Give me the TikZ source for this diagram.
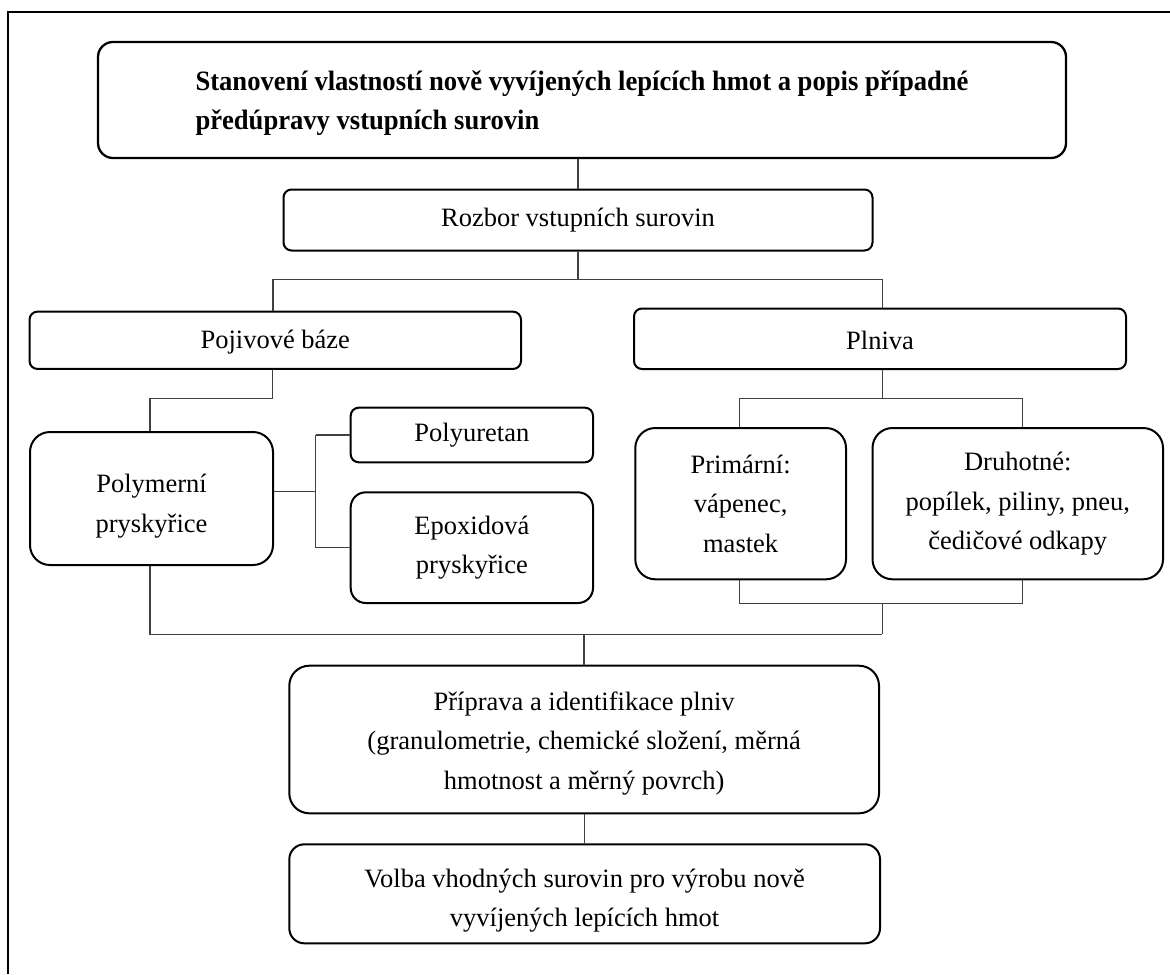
\documentclass[tikz,border=0pt]{standalone}
\usepackage{fontspec}
\setmainfont{Liberation Serif}
\newfontfamily\titlefont[FakeStretch=0.95]{Liberation Serif}
\newcommand\upstrut[1]{\rule{0pt}{#1}}
\begin{document}
\begin{tikzpicture}[x=0.5pt,y=-0.5pt]
\tikzset{
  box/.style={draw=black, line width=1pt, rounded corners=4pt, align=center, inner sep=0pt,
    font=\fontsize{13.25pt}{19.75pt}\selectfont},
  bigr/.style={rounded corners=10pt},
  midr/.style={rounded corners=7.5pt},
  conn/.style={draw=black!75, line width=0.6pt},
  frame/.style={draw=black, line width=1pt},
}
\useasboundingbox (0,0) rectangle (1170,974);
\draw[frame] (8.3,974) -- (8.3,12) -- (1170,12);

% nodes
\node[box, midr, line width=1.15pt, align=left, minimum width=484pt, minimum height=58pt,
  font=\titlefont\bfseries\fontsize{14pt}{19.5pt}\selectfont] (title) at (582,100)
  {\upstrut{13pt}Stanovení vlastností nově vyvíjených lepících hmot a popis případné\\předúpravy vstupních surovin};
\node[box, minimum width=294.5pt, minimum height=30.5pt] (rozbor) at (578,220) {Rozbor vstupních surovin};
\node[box, minimum width=245.75pt, minimum height=28.65pt] (pojiv) at (275.25,340.3) {\upstrut{11pt}Pojivové báze};
\node[box, minimum width=246pt, minimum height=30.25pt] (plniva) at (880,338.75) {\upstrut{11pt}Plniva};
\node[box, bigr, minimum width=121.5pt, minimum height=66.5pt] (polym) at (151.5,498.5) {\upstrut{17pt}Polymerní\\pryskyřice};
\node[box, minimum width=121.15pt, minimum height=27.3pt] (polyur) at (471.85,435) {Polyuretan};
\node[box, midr, minimum width=121.15pt, minimum height=55.35pt] (epox) at (471.85,547.65) {Epoxidová\\pryskyřice};
\node[box, bigr, minimum width=105.35pt, minimum height=75.65pt] (prim) at (740.65,503.65) {Primární:\\vápenec,\\mastek};
\node[box, bigr, minimum width=145.25pt, minimum height=75.65pt] (druh) at (1017.75,503.65) {Druhotné:\\popílek, piliny, pneu,\\čedičové odkapy};
\node[box, bigr, minimum width=294.85pt, minimum height=73.8pt] (prip) at (584.15,739.5) {\upstrut{13pt}Příprava a identifikace plniv\\(granulometrie, chemické složení, měrná\\hmotnost a měrný povrch)};
\node[box, midr, minimum width=295.35pt, minimum height=49.5pt] (volba) at (584.65,893.8) {\upstrut{16pt}Volba vhodných surovin pro výrobu nově\\vyvíjených lepících hmot};

% junction coordinates
\coordinate (jA) at (578,279.3);
\coordinate (jAL) at (273,279.3);
\coordinate (jAR) at (882.3,279.3);
\coordinate (jB) at (272.7,398.3);
\coordinate (jBL) at (150,398.3);
\coordinate (jC) at (882.3,398.3);
\coordinate (jCL) at (739.3,398.3);
\coordinate (jCR) at (1022.5,398.3);
\coordinate (jD) at (315.7,491.7);
\coordinate (jDT) at (315.7,435);
\coordinate (jDB) at (315.7,547.65);
\coordinate (jE) at (882.3,603.3);
\coordinate (jEL) at (739.3,603.3);
\coordinate (jER) at (1022.5,603.3);
\coordinate (jF) at (150,634.3);
\coordinate (jFR) at (882.3,634.3);
\coordinate (jFM) at (584,634.3);

% connectors
\draw[conn] (title.south -| jA) -- (rozbor.north -| jA);
\draw[conn] (rozbor.south -| jA) -- (jA);
\draw[conn] (jAL) -- (jAR);
\draw[conn] (jAL) -- (pojiv.north -| jAL);
\draw[conn] (jAR) -- (plniva.north -| jAR);
\draw[conn] (pojiv.south -| jB) -- (jB) -- (jBL) -- (polym.north -| jBL);
\draw[conn] (plniva.south -| jC) -- (jC);
\draw[conn] (jCL) -- (jCR);
\draw[conn] (jCL) -- (prim.north -| jCL);
\draw[conn] (jCR) -- (druh.north -| jCR);
\draw[conn] (polym.east |- jD) -- (jD);
\draw[conn] (jDT) -- (jDB);
\draw[conn] (jDT) -- (polyur.west);
\draw[conn] (jDB) -- (epox.west);
\draw[conn] (prim.south -| jEL) -- (jEL) -- (jER) -- (druh.south -| jER);
\draw[conn] (jE) -- (jFR);
\draw[conn] (polym.south -| jF) -- (jF) -- (jFR);
\draw[conn] (jFM) -- (prip.north -| jFM);
\draw[conn] (prip.south) -- (volba.north -| prip.south);
\end{tikzpicture}
\end{document}
